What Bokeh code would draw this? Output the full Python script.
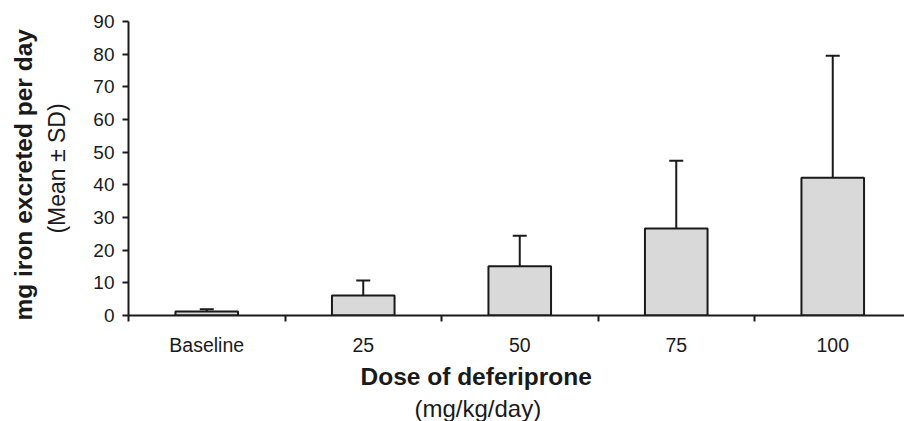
from bokeh.plotting import figure
from bokeh.models import Range1d, FixedTicker, Whisker, TeeHead, ColumnDataSource, Title
from bokeh.embed import file_html
from bokeh.resources import INLINE

categories = ["Baseline", "25", "50", "75", "100"]
means = [1.2, 6.1, 15.1, 26.6, 42.2]
sds = [0.7, 4.6, 9.3, 20.8, 37.3]
y_ticks = [0, 10, 20, 30, 40, 50, 60, 70, 80, 90]

FONT = "Liberation Sans"
INK = "#1a1a1a"

xs = list(range(len(categories)))
src = ColumnDataSource(dict(
    x=xs, top=means, upper=[m + s for m, s in zip(means, sds)],
))

p = figure(width=904, height=421, output_backend="svg", toolbar_location=None,
           x_range=Range1d(-0.5, -0.5 + 776 / 156.5), y_range=Range1d(0, 90),
           min_border_left=128, min_border_right=0, min_border_top=21,
           min_border_bottom=106)
p.outline_line_color = None
p.grid.visible = False

p.vbar(x="x", top="top", width=0.4, source=src, fill_color="#d9d9d9",
       line_color=INK, line_width=2)

w = Whisker(base="x", lower="top", upper="upper", source=src,
            line_color=INK, line_width=2,
            upper_head=TeeHead(size=14, line_color=INK, line_width=2),
            lower_head=None)
p.add_layout(w)

# x axis
xa = p.xaxis[0]
xa.ticker = FixedTicker(ticks=xs, minor_ticks=[x - 0.5 for x in xs])
xa.major_label_overrides = {i: c for i, c in enumerate(categories)}
xa.major_tick_line_color = None
xa.major_tick_out = 0
xa.major_tick_in = 0
xa.minor_tick_out = 6
xa.minor_tick_in = 0
xa.minor_tick_line_color = INK
xa.minor_tick_line_width = 2
xa.axis_line_color = INK
xa.axis_line_width = 2
xa.major_label_standoff = 12
xa.major_label_text_font = FONT
xa.major_label_text_font_size = "19.5px"
xa.major_label_text_color = INK

# y axis
ya = p.yaxis[0]
ya.ticker = FixedTicker(ticks=y_ticks)
ya.major_tick_out = 6
ya.major_tick_in = 0
ya.major_tick_line_color = INK
ya.major_tick_line_width = 2
ya.minor_tick_line_color = None
ya.axis_line_color = INK
ya.axis_line_width = 2
ya.major_label_standoff = 8
ya.major_label_text_font = FONT
ya.major_label_text_font_size = "19px"
ya.major_label_text_color = INK
ya.axis_label = "(Mean ± SD)"
ya.axis_label_text_font = FONT
ya.axis_label_text_font_size = "23px"
ya.axis_label_text_font_style = "normal"
ya.axis_label_text_color = INK
ya.axis_label_standoff = 20

def side_title(text, side, style, offset, standoff=0, size="24px"):
    t = Title(text=text, align="left", offset=offset, standoff=standoff,
              text_font=FONT, text_font_size=size, text_font_style=style,
              text_color=INK)
    p.add_layout(t, side)

side_title("mg iron excreted per day", "left", "bold", -5, 10, "24.5px")
side_title("Dose of deferiprone", "below", "bold", 232, 5, "24.5px")
side_title("(mg/kg/day)", "below", "normal", 286, 0)

open("out.html", "w").write(file_html(p, INLINE))
